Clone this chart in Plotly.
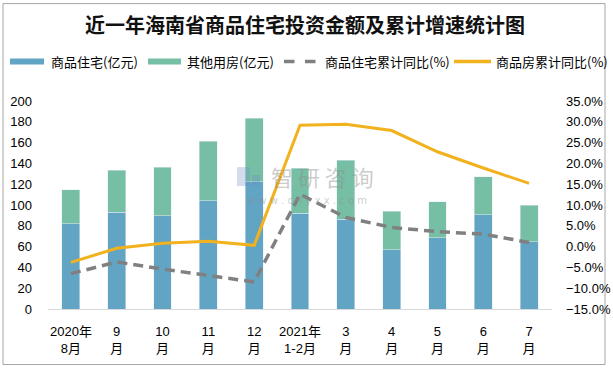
import plotly.graph_objects as go

categories = ["2020年<br>8月", "9<br>月", "10<br>月", "11<br>月", "12<br>月", "2021年<br>1-2月",
              "3<br>月", "4<br>月", "5<br>月", "6<br>月", "7<br>月"]
residential = [82, 93, 89.5, 104, 122.5, 92, 86.5, 57, 68.5, 90.5, 64.5]
other_housing = [32.5, 40.5, 47, 57.5, 61, 43.5, 56.5, 37, 34.5, 36.5, 35.5]
residential_yoy = [-6.5, -3.7, -5.4, -6.9, -8.5, 12.6, 7.0, 4.6, 3.6, 3.0, 1.0]
housing_yoy = [-3.8, -0.4, 0.8, 1.3, 0.3, 29.2, 29.4, 27.9, 22.8, 18.9, 15.2]

names = ["商品住宅(亿元)", "其他用房(亿元)", "商品住宅累计同比(%)", "商品房累计同比(%)"]
BLUE = "#62A4C4"
GREEN = "#76BFA5"
GRAY = "#808080"
YELLOW = "#F2B21E"
FONT = "Liberation Sans, Noto Sans CJK SC, sans-serif"
CJK = "Noto Sans CJK SC"

x = list(range(len(categories)))

fig = go.Figure()
fig.add_trace(go.Bar(x=x, y=residential, name=names[0], marker_color=BLUE, width=0.39, yaxis="y"))
fig.add_trace(go.Bar(x=x, y=other_housing, name=names[1], marker_color=GREEN, width=0.39, yaxis="y"))
fig.add_trace(go.Scatter(x=x, y=residential_yoy, name=names[2], mode="lines",
                         line=dict(color=GRAY, width=3.5, dash="10px,6px"), yaxis="y2"))
fig.add_trace(go.Scatter(x=x, y=housing_yoy, name=names[3], mode="lines",
                         line=dict(color=YELLOW, width=3), yaxis="y2"))

L, R, T, B = 48, 61, 100.7, 60.7
W, H = 613, 370
pw = W - L - R
ph = H - T - B


def px(xp):
    return (xp - L) / pw


def py(yp):
    return (H - B - yp) / ph


shapes = [dict(type="rect", xref="paper", yref="paper",
               x0=px(3), x1=px(605), y0=py(365), y1=py(3),
               line=dict(color="#A6A6A6", width=1), fillcolor="rgba(0,0,0,0)", layer="below")]
annotations = []

# manual legend
legend_y = 61
swatches = [(10, 44, BLUE, 6, "solid"), (148, 181, GREEN, 6, "solid"),
            (284, 317, GRAY, 3.5, "dash"), (454, 491, YELLOW, 3.5, "solid")]
text_x = [49, 185, 323, 494]
for (x0, x1, c, w, d), tx, nm in zip(swatches, text_x, names):
    shapes.append(dict(type="line", xref="paper", yref="paper", x0=px(x0), x1=px(x1),
                       y0=py(legend_y), y1=py(legend_y), line=dict(color=c, width=w, dash=d)))
    annotations.append(dict(text=nm, xref="paper", yref="paper", x=px(tx), y=py(legend_y),
                            xanchor="left", yanchor="middle", showarrow=False,
                            font=dict(family=CJK, size=13, color="#000000")))

# watermark
annotations += [
    dict(text="智 研 咨 询", xref="paper", yref="paper", x=px(322), y=py(176),
         xanchor="center", yanchor="middle", showarrow=False,
         font=dict(family=CJK, size=22, color="rgba(140,140,140,0.45)")),
    dict(text="w w w . c h y x x . c o m", xref="paper", yref="paper", x=px(307), y=py(200),
         xanchor="center", yanchor="middle", showarrow=False,
         font=dict(family="DejaVu Sans", size=10, color="rgba(140,140,140,0.45)")),
]
shapes += [
    dict(type="rect", xref="paper", yref="paper", x0=px(237), x1=px(250), y0=py(186), y1=py(167),
         line=dict(width=0), fillcolor="rgba(110,140,200,0.30)"),
    dict(type="rect", xref="paper", yref="paper", x0=px(252), x1=px(260), y0=py(186), y1=py(175),
         line=dict(width=0), fillcolor="rgba(110,140,200,0.30)"),
]

fig.update_layout(
    width=W, height=H,
    margin=dict(l=L, r=R, t=T, b=B, autoexpand=False),
    paper_bgcolor="white", plot_bgcolor="white",
    barmode="stack",
    showlegend=False,
    font=dict(family=FONT, size=13, color="#000000"),
    title=dict(text="<b>近一年海南省商品住宅投资金额及累计增速统计图</b>",
               x=305 / W, xref="container", xanchor="center",
               y=1 - 26 / H, yref="container", yanchor="middle",
               font=dict(family=CJK, size=20, color="#111111")),
    xaxis=dict(tickmode="array", tickvals=x, ticktext=categories, range=[-0.5, len(x) - 0.5],
               showgrid=False, zeroline=False, showline=True, linecolor="#D9D9D9", linewidth=1,
               ticks="", ticklabelstandoff=10,
               tickfont=dict(family=FONT, size=13, color="#000000")),
    yaxis=dict(range=[0, 200], dtick=20, showgrid=False, zeroline=False, showline=False,
               ticks="", ticklabelstandoff=15,
               tickfont=dict(family=FONT, size=13, color="#000000")),
    yaxis2=dict(range=[-15, 35], dtick=5, overlaying="y", side="right", showgrid=False,
                zeroline=False, showline=False, ticks="", tickformat=".1f", ticksuffix="%",
                ticklabelstandoff=13,
                tickfont=dict(family=FONT, size=13, color="#000000")),
    shapes=shapes,
    annotations=annotations,
)

fig.write_html("out.html", config={"displayModeBar": False},
               post_script="document.body.style.margin='0';document.body.style.padding='0';")
